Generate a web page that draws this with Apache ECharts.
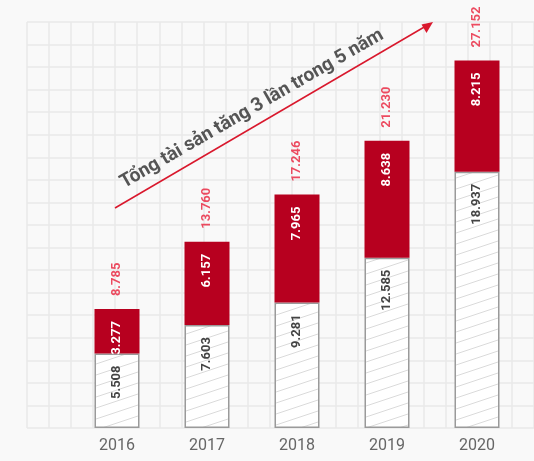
<!DOCTYPE html>
<html><head><meta charset="utf-8">
<script src="https://cdn.jsdelivr.net/npm/echarts@6/dist/echarts.min.js"></script>
<style>html,body{margin:0;padding:0;background:#f9f9f9}#c{width:534px;height:461px}</style>
</head><body><div id="c"></div>
<script>
var years = ['2016','2017','2018','2019','2020'];
var baseValues = [5.508, 7.603, 9.281, 12.585, 18.937];
var addValues = [3.277, 6.157, 7.965, 8.638, 8.215];
var totalValues = [8.785, 13.760, 17.246, 21.230, 27.152];
var annotation = 'Tổng tài sản tăng 3 lần trong 5 năm';

function fmt(v){ return v.toFixed(3); }

var pc = document.createElement('canvas');
pc.width = 33; pc.height = 11;
var ctx = pc.getContext('2d');
ctx.fillStyle = '#ffffff'; ctx.fillRect(0,0,33,11);
ctx.strokeStyle = '#dadada'; ctx.lineWidth = 1;
[[-3,12],[-3,23],[-3,1]].forEach(function(s){
  ctx.beginPath(); ctx.moveTo(s[0], s[1]); ctx.lineTo(s[0]+39, s[1]-13); ctx.stroke();
});

var chart = echarts.init(document.getElementById('c'));
var font = 'Roboto, sans-serif';
var lbl = function(color){
  return {show: true, position: 'insideTop', distance: 12, rotate: 90, align: 'right', verticalAlign: 'middle',
    color: color, fontSize: 13, fontWeight: 'bold', fontFamily: font,
    formatter: function(p){ return fmt(p.value); }};
};
chart.setOption({
  backgroundColor: '#f9f9f9',
  animation: false,
  grid: [
    {left: 72, top: 22, width: 450, height: 406},
    {left: 27, top: 22, width: 517.5, height: 406}
  ],
  xAxis: [
    {type: 'category', data: years, gridIndex: 0,
     axisLine: {show: false}, axisTick: {show: false},
     axisLabel: {color: '#666', fontSize: 16, fontFamily: font, margin: 10}},
    {type: 'value', gridIndex: 1, min: 0, max: 23, interval: 1,
     axisLine: {show: false}, axisTick: {show: false}, axisLabel: {show: false},
     splitLine: {show: true, lineStyle: {color: '#e8e8e8', width: 1.5}}}
  ],
  yAxis: [
    {type: 'value', gridIndex: 0, min: 0, max: 30,
     axisLine: {show: false}, axisTick: {show: false}, axisLabel: {show: false},
     splitLine: {show: false}},
    {type: 'value', gridIndex: 1, min: 0, max: 18, interval: 1,
     axisLine: {show: false}, axisTick: {show: false}, axisLabel: {show: false},
     splitLine: {show: true, lineStyle: {color: '#e8e8e8', width: 1.5}}}
  ],
  series: [
    {type: 'bar', stack: 'a', data: baseValues, barWidth: 45, z: 3,
     itemStyle: {color: {image: pc, repeat: 'repeat'}, borderColor: '#9a9a9a', borderWidth: 1.5},
     label: lbl('#444')},
    {type: 'bar', stack: 'a', data: addValues, barWidth: 45, z: 3,
     itemStyle: {color: '#b7001f'},
     label: lbl('#ffffff')},
    {type: 'scatter', data: totalValues, symbolSize: 0, z: 4,
     label: {show: true, position: 'top', distance: 13, rotate: 90, align: 'left', verticalAlign: 'middle',
       color: '#e81f3a', fontSize: 13, fontWeight: 'bold', fontFamily: font,
       formatter: function(p){ return fmt(p.value); }}}
  ],
  graphic: [
    {type: 'line', shape: {x1: 115, y1: 208, x2: 426, y2: 26}, style: {stroke: '#d9182d', lineWidth: 1.5}, z: 10},
    {type: 'polygon', shape: {points: [[433,22],[421.5,24.5],[426.5,33]]}, style: {fill: '#d9182d'}, z: 10},
    {type: 'text', x: 252, y: 109, rotation: 30 * Math.PI / 180, z: 10,
     style: {text: annotation, font: 'bold 19px Roboto, sans-serif', fill: '#555', align: 'center', verticalAlign: 'middle'}}
  ]
});
</script></body></html>
